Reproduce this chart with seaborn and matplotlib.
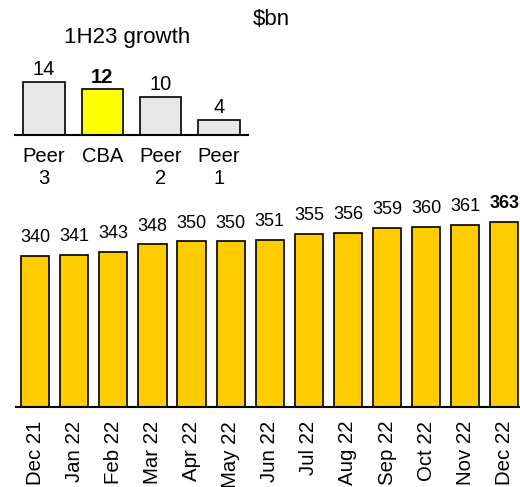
import seaborn as sns
import matplotlib.pyplot as plt
import pandas as pd

# monthly balances ($bn)
months = ['Dec 21', 'Jan 22', 'Feb 22', 'Mar 22', 'Apr 22', 'May 22', 'Jun 22',
          'Jul 22', 'Aug 22', 'Sep 22', 'Oct 22', 'Nov 22', 'Dec 22']
balances = [340, 341, 343, 348, 350, 350, 351, 355, 356, 359, 360, 361, 363]

# 1H23 growth by bank
banks = ['Peer\n3', 'CBA', 'Peer\n2', 'Peer\n1']
growth = [14, 12, 10, 4]
bank_colors = ['#E8E8E8', '#FFFF00', '#E8E8E8', '#E8E8E8']

sns.set_style('white')
plt.rcParams['font.family'] = ['Liberation Sans', 'DejaVu Sans']
plt.rcParams['text.color'] = 'black'
plt.rcParams['xtick.color'] = 'black'

fig = plt.figure(figsize=(5.2, 4.87), dpi=100)

# main monthly chart
ax = fig.add_axes([16 / 520, 1 - 407 / 487, 504 / 520, 207 / 487])
df = pd.DataFrame({'month': months, 'bal': balances})
sns.barplot(data=df, x='month', y='bal', color='#FFCC00', saturation=1,
            edgecolor='black', linewidth=1.2, width=0.72, ax=ax)
ax.set_ylim(238, 378)
ax.set_xlim(-0.49, 12.4)
labels = ax.bar_label(ax.containers[0], padding=7, fontsize=13)
labels[-1].set_fontweight('bold')
ax.set_xlabel('')
ax.set_ylabel('')
ax.set_yticks([])
ax.tick_params(axis='x', length=0, pad=10, labelrotation=90, labelsize=14.7)
for s in ['top', 'right', 'left']:
    ax.spines[s].set_visible(False)
ax.spines['bottom'].set_linewidth(1.5)
ax.spines['bottom'].set_color('black')

# inset growth chart
ax2 = fig.add_axes([15 / 520, 1 - 135 / 487, 233 / 520, 75 / 487])
gdf = pd.DataFrame({'bank': banks, 'growth': growth})
sns.barplot(data=gdf, x='bank', y='growth', hue='bank', palette=bank_colors,
            saturation=1, legend=False, edgecolor='black', linewidth=1.2,
            width=0.71, ax=ax2)
ax2.set_ylim(0, 19.7)
ax2.set_xlim(-0.5, 3.5)
for c in ax2.containers:
    ax2.bar_label(c, padding=2, fontsize=14.5)
for t in ax2.texts:
    if t.get_text() == '12':
        t.set_fontweight('bold')
ax2.set_xlabel('')
ax2.set_ylabel('')
ax2.set_yticks([])
ax2.tick_params(axis='x', length=0, pad=9, labelsize=14.5)
for s in ['top', 'right', 'left']:
    ax2.spines[s].set_visible(False)
ax2.spines['bottom'].set_linewidth(1.5)
ax2.spines['bottom'].set_color('black')

fig.text(126.7 / 520, 1 - 43 / 487, '1H23 growth', ha='center', va='baseline', fontsize=16)
fig.text(271 / 520, 1 - 25 / 487, '$bn', ha='center', va='baseline', fontsize=16)

fig.savefig('out.png', dpi=100)
